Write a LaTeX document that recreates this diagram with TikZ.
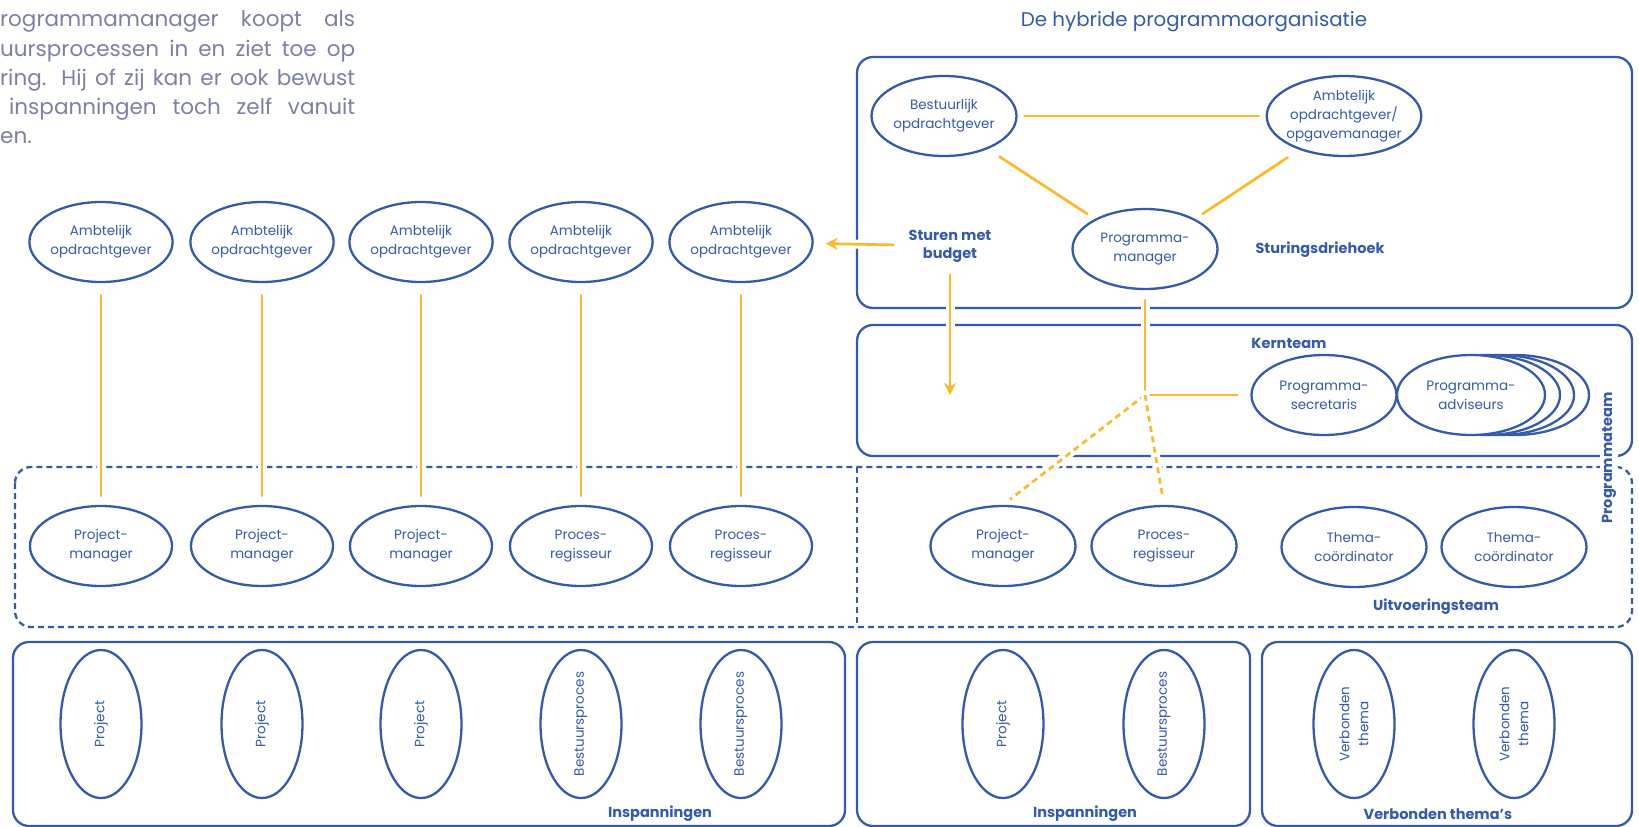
\documentclass[tikz,border=0pt]{standalone}
\usepackage{fontspec}
\setmainfont{Poppins}
\usetikzlibrary{arrows.meta,positioning,shapes.geometric}
\definecolor{orgblue}{RGB}{52,90,172}
\definecolor{orgyellow}{RGB}{251,185,44}
\definecolor{orggrey}{RGB}{125,128,165}

\begin{document}
\begin{tikzpicture}[x=1pt,y=-1pt,>=Stealth,line cap=round,
 role/.style={ellipse,draw=orgblue,line width=2.3pt,fill=white,text=orgblue,
  inner sep=0pt,minimum width=145pt,minimum height=80pt,align=center,
  font=\fontsize{13.5}{19}\selectfont},
 effort/.style={role,minimum width=148pt,minimum height=81pt,rotate=90},
 teambox/.style={draw=orgblue,line width=2.3pt,rounded corners=16pt},
 teamdash/.style={teambox,line cap=butt,dash pattern=on 6pt off 4pt},
 teamlabel/.style={text=orgblue,align=center,
  font=\bfseries\fontsize{14.5}{18}\selectfont},
 link/.style={draw=orgyellow,line width=2.7pt,
  preaction={draw=white,line width=9pt,solid,-}},
 dashlink/.style={link,line cap=butt,dash pattern=on 6pt off 4.5pt},
 flow/.style={link,-{Stealth[length=12pt,width=12pt]}},
 intro/.style={text=orggrey,inner sep=0pt,font=\fontsize{21.5}{29}\selectfont}]
\useasboundingbox (0,0) rectangle (1639,827);

% running text and title
\node[intro,anchor=base west] (p1) at (0,27) {\makebox[355pt][s]{rogrammamanager koopt als}};
\node[intro,anchor=base west] (p2) at (0,56) {\makebox[355pt][s]{uursprocessen in en ziet toe op}};
\node[intro,anchor=base west] (p3) at (0,85) {\makebox[355pt][s]{ring. Hij of zij kan er ook bewust}};
\node[intro,anchor=base west] (p4) at (9,114) {\makebox[346pt][s]{inspanningen toch zelf vanuit}};
\node[intro,anchor=base west] (p5) at (0,143) {en.};
\node[text=orgblue,font=\fontsize{19.8}{24}\selectfont] (title) at (1194,22)
 {De hybride programmaorganisatie};

% frames
\draw[teambox] (857,57) rectangle (1632,308);
\draw[teambox] (857,325) rectangle (1632,456);
\draw[teamdash] (15,467) rectangle (1632,627);
\draw[teamdash] (857,467) -- (857,627);
\draw[teambox] (13,642) rectangle (845,826);
\draw[teambox] (857,642) rectangle (1250,826);
\draw[teambox] (1262,642) rectangle (1632,826);

% sturingsdriehoek
\node[role] (bo) at (944,116) {Bestuurlijk\\opdrachtgever};
\node[role,minimum width=148pt,inner sep=-3pt] (ao) at (1344,116)
 {Ambtelijk\\opdrachtgever/\\opgavemanager};
\node[role] (pm) at (1145,249) {Programma-\\manager};
\node[teamlabel] (sd) at (1320,250) {Sturingsdriehoek};
\node[teamlabel] (sb) at (950,246) {Sturen met\\budget};

% kernteam
\node[teamlabel] (kt) at (1289,343) {Kernteam};
\foreach \xx [count=\i] in {44,29,15}
 \node[role,minimum width=148pt] (pa\i) at ({1471+\xx},395) {};
\node[role,minimum width=148pt] (pa) at (1471,395) {Programma-\\adviseurs};
\node[role] (ps) at (1324,395) {Programma-\\secretaris};
\node[teamlabel,fill=white,rotate=90,inner sep=2pt] (pt) at (1609,458) {Programmateam};

% opdrachtgevers en uitvoeringsteam
\foreach \xx [count=\i] in {101,262,421,581,741}
 \node[role,minimum width=140pt] (a\i) at (\xx,242) {Ambtelijk\\opdrachtgever};
\foreach \xx/\txt [count=\i] in {101/Project-\\manager,262/Project-\\manager,
 421/Project-\\manager,581/Proces-\\regisseur,741/Proces-\\regisseur}
 \node[role,minimum width=142pt] (u\i) at (\xx,546) {\txt};
\node[role] (rpm) at (1003,546) {Project-\\manager};
\node[role] (rpr) at (1164,546) {Proces-\\regisseur};
\node[role] (th1) at (1354,547) {Thema-\\coördinator};
\node[role] (th2) at (1514,547) {Thema-\\coördinator};
\node[teamlabel] (ut) at (1436,607) {Uitvoeringsteam};

% inspanningen en verbonden thema's
\foreach \xx/\txt [count=\i] in {101/Project,262/Project,421/Project,
 581/Bestuursproces,741/Bestuursproces,1003/Project,1164/Bestuursproces,
 1354/Verbonden\\thema,1514/Verbonden\\thema}
 \node[effort] (e\i) at (\xx,724) {\txt};
\node[teamlabel] (in1) at (660,814) {Inspanningen};
\node[teamlabel] (in2) at (1085,814) {Inspanningen};
\node[teamlabel] (vt) at (1438,814) {Verbonden thema's};

% lijnen
\draw[link,shorten <=7pt,shorten >=7pt] (bo) -- (ao);
\draw[link,shorten <=14pt,shorten >=9pt] (bo.-37) -- (pm.149);
\draw[link,shorten <=14pt,shorten >=9pt] (ao.-143) -- (pm.31);
\draw[flow,shorten <=12pt,shorten >=12pt] (sb) -- (a5);
\coordinate (bt) at (950,395);
\draw[flow,shorten <=9pt] (sb) -- (bt);
\coordinate (jn) at (pm |- ps);
\draw[link,shorten <=10pt,shorten >=13pt] (pm) -- (jn) -- (ps);
\draw[dashlink,shorten >=9pt] (jn) -- (rpm.north);
\draw[dashlink,shorten >=8pt] (jn) -- (rpr.north);
\foreach \i in {1,...,5}
 \draw[link,shorten <=12pt,shorten >=9pt] (a\i) -- (u\i);
\end{tikzpicture}
\end{document}
